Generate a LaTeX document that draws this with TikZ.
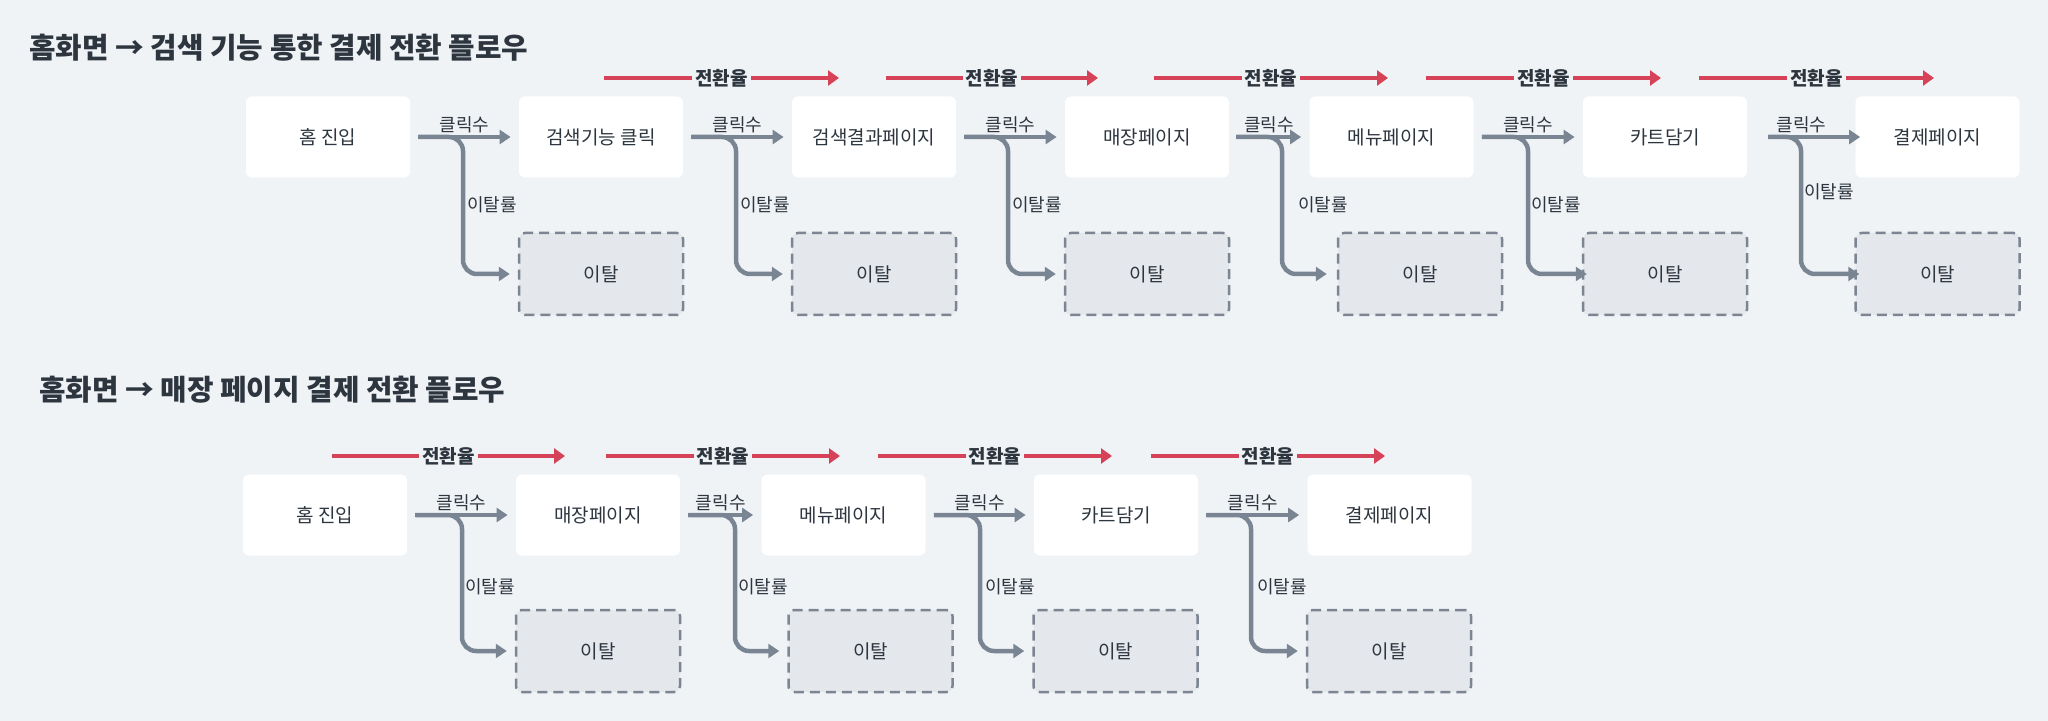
\documentclass[tikz,border=0pt]{standalone}
\usepackage{fontspec}
\setmainfont{Noto Sans CJK KR}
\usetikzlibrary{arrows.meta}

\definecolor{bgcol}{RGB}{240,243,246}
\definecolor{inkcol}{RGB}{45,53,63}
\definecolor{flowcol}{RGB}{122,133,147}
\definecolor{ratecol}{RGB}{214,66,88}
\definecolor{dropfill}{RGB}{228,231,235}
\definecolor{dropline}{RGB}{124,133,145}

\tikzset{
  stepbox/.style={fill=white, rounded corners=3pt, minimum width=82pt, minimum height=40.5pt, inner sep=0pt, text=inkcol, font=\fontsize{9.5pt}{11pt}\selectfont},
  dropbox/.style={stepbox, fill=dropfill, draw=dropline, line width=1.25pt, dash pattern=on 5pt off 3pt, minimum height=41pt},
  flow/.style={draw=flowcol, line width=2.25pt, -{Triangle[length=5.5pt,width=7pt]}, shorten <=4pt, shorten >=4pt},
  branch/.style={flow, rounded corners=7pt},
  conv/.style={draw=ratecol, line width=2pt, -{Triangle[length=5.5pt,width=7.5pt]}},
  rate/.style={fill=bgcol, inner xsep=1.5pt, inner ysep=0pt, text=inkcol, font=\fontsize{9.5pt}{11pt}\selectfont\bfseries},
  lbl/.style={text=inkcol, inner sep=1pt, font=\fontsize{9pt}{11pt}\selectfont},
  heading/.style={anchor=west, inner sep=0pt, text=inkcol, font=\fontsize{14.4pt}{17pt}\selectfont\bfseries},
}

\begin{document}
\begin{tikzpicture}[x=0.5pt,y=0.5pt,yscale=-1,xscale=1]
%set diagram to 2048 x 721
\fill[bgcol] (0,0) rectangle (2048,721);
\useasboundingbox (0,0) rectangle (2048,721);

% Text Node
\node[heading] (title1) at (29,48) {홈화면 → 검색 기능 통한 결제 전환 플로우};
% Text Node
\node[heading] (title2) at (39,390) {홈화면 → 매장 페이지 결제 전환 플로우};

%Shape: Rectangle [row 1]
\node[stepbox] (home1) at (328,137) {홈 진입};
\node[stepbox] (srch1) at (601,137) {검색기능 클릭};
\node[stepbox] (res1) at (874,137) {검색결과페이지};
\node[stepbox] (shop1) at (1147,137) {매장페이지};
\node[stepbox] (menu1) at (1391.5,137) {메뉴페이지};
\node[stepbox] (cart1) at (1665,137) {카트담기};
\node[stepbox] (pay1) at (1937.5,137) {결제페이지};
%Shape: Rectangle [row 1, drop]
\node[dropbox] (out1a) at (601,274) {이탈};
\node[dropbox] (out1b) at (874,274) {이탈};
\node[dropbox] (out1c) at (1147,274) {이탈};
\node[dropbox] (out1d) at (1420,274) {이탈};
\node[dropbox] (out1e) at (1665,274) {이탈};
\node[dropbox] (out1f) at (1937.5,274) {이탈};

%Shape: Rectangle [row 2]
\node[stepbox] (home2) at (325,515) {홈 진입};
\node[stepbox] (shop2) at (598,515) {매장페이지};
\node[stepbox] (menu2) at (843.5,515) {메뉴페이지};
\node[stepbox] (cart2) at (1116,515) {카트담기};
\node[stepbox] (pay2) at (1389.5,515) {결제페이지};
%Shape: Rectangle [row 2, drop]
\node[dropbox] (out2a) at (598,651) {이탈};
\node[dropbox] (out2b) at (870.5,651) {이탈};
\node[dropbox] (out2c) at (1115.5,651) {이탈};
\node[dropbox] (out2d) at (1389,651) {이탈};

%Straight Lines [conversion, row 1]
\coordinate (a1) at (604,78);  \coordinate (b1) at (839,78);
\coordinate (a2) at (886,78);  \coordinate (b2) at (1098,78);
\coordinate (a3) at (1154,78); \coordinate (b3) at (1388,78);
\coordinate (a4) at (1426,78); \coordinate (b4) at (1661,78);
\coordinate (a5) at (1699,78); \coordinate (b5) at (1934,78);
\draw[conv] (a1) -- (b1) node[rate, midway] (rt1) {전환율};
\draw[conv] (a2) -- (b2) node[rate, midway] (rt2) {전환율};
\draw[conv] (a3) -- (b3) node[rate, midway] (rt3) {전환율};
\draw[conv] (a4) -- (b4) node[rate, midway] (rt4) {전환율};
\draw[conv] (a5) -- (b5) node[rate, midway] (rt5) {전환율};

%Straight Lines [conversion, row 2]
\coordinate (a6) at (332,456);  \coordinate (b6) at (565,456);
\coordinate (a7) at (606,456);  \coordinate (b7) at (840,456);
\coordinate (a8) at (878,456);  \coordinate (b8) at (1112,456);
\coordinate (a9) at (1151,456); \coordinate (b9) at (1385,456);
\draw[conv] (a6) -- (b6) node[rate, midway] (rt6) {전환율};
\draw[conv] (a7) -- (b7) node[rate, midway] (rt7) {전환율};
\draw[conv] (a8) -- (b8) node[rate, midway] (rt8) {전환율};
\draw[conv] (a9) -- (b9) node[rate, midway] (rt9) {전환율};

%Bends [row 1]
\coordinate (k1) at (463,137);
\coordinate (k2) at (736,137);
\coordinate (k3) at (1008,137);
\coordinate (k4) at (1282,137);
\coordinate (k5) at (1528,137);
\coordinate (k6) at (1801,137);
%Bends [row 2]
\coordinate (k7) at (462,515);
\coordinate (k8) at (735,515);
\coordinate (k9) at (980,515);
\coordinate (k10) at (1251,515);

%Connectors [row 1]
\draw[branch] (home1.east) -- (k1) |- (out1a);
\draw[flow] (home1) -- (srch1) node[lbl, midway, above] (ck1) {클릭수};
\draw[branch] (srch1.east) -- (k2) |- (out1b);
\draw[flow] (srch1) -- (res1) node[lbl, midway, above] (ck2) {클릭수};
\draw[branch] (res1.east) -- (k3) |- (out1c);
\draw[flow] (res1) -- (shop1) node[lbl, midway, above] (ck3) {클릭수};
\draw[branch, shorten <=3.5pt, shorten >=5pt] (shop1.east) -- (k4) |- (out1d);
\draw[flow, shorten <=3.5pt] (shop1) -- (menu1) node[lbl, midway, above] (ck4) {클릭수};
\draw[branch, shorten >=-2.5pt] (menu1.east) -- (k5) |- (out1e);
\draw[flow] (menu1) -- (cart1) node[lbl, midway, above] (ck5) {클릭수};
\draw[branch, shorten <=10.5pt, shorten >=-2.5pt] (cart1.east) -- (k6) |- (out1f);
\draw[flow, shorten <=10.5pt, shorten >=-2.5pt] (cart1) -- (pay1) node[lbl, midway, above] (ck6) {클릭수};

%Connectors [row 2]
\draw[branch] (home2.east) -- (k7) |- (out2a);
\draw[flow] (home2) -- (shop2) node[lbl, midway, above] (ck7) {클릭수};
\draw[branch] (shop2.east) -- (k8) |- (out2b);
\draw[flow] (shop2) -- (menu2) node[lbl, midway, above] (ck8) {클릭수};
\draw[branch] (menu2.east) -- (k9) |- (out2c);
\draw[flow] (menu2) -- (cart2) node[lbl, midway, above] (ck9) {클릭수};
\draw[branch] (cart2.east) -- (k10) |- (out2d);
\draw[flow] (cart2) -- (pay2) node[lbl, midway, above] (ck10) {클릭수};

% Text Node [drop rates]
\node[lbl] (dr1) at (492,205) {이탈률};
\node[lbl] (dr2) at (765,205) {이탈률};
\node[lbl] (dr3) at (1037,205) {이탈률};
\node[lbl] (dr4) at (1323,205) {이탈률};
\node[lbl] (dr5) at (1556,205) {이탈률};
\node[lbl] (dr6) at (1829,192) {이탈률};
\node[lbl] (dr7) at (490,587) {이탈률};
\node[lbl] (dr8) at (763,587) {이탈률};
\node[lbl] (dr9) at (1010,587) {이탈률};
\node[lbl] (dr10) at (1282,587) {이탈률};

\end{tikzpicture}
\end{document}
